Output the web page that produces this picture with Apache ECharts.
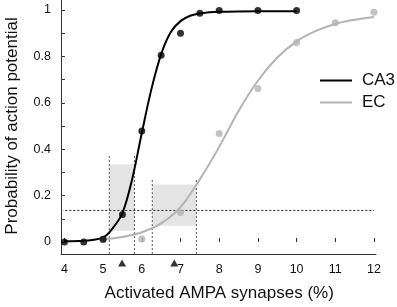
<!DOCTYPE html>
<html>
<head>
<meta charset="utf-8">
<script src="https://cdn.jsdelivr.net/npm/echarts@6/dist/echarts.min.js"></script>
<style>html,body{margin:0;padding:0;background:#fff;}#c{width:397px;height:307px;}</style>
</head>
<body>
<div id="c"></div>
<script>
// ---- data ----
const ca3X = [4, 4.5, 5, 5.5, 6, 6.5, 7, 7.5, 8, 9, 10];
const ca3Y = [0, 0, 0.012, 0.118, 0.478, 0.805, 0.9, 0.986, 0.998, 0.998, 0.998];
const ecX = [5, 6, 7, 8, 9, 10, 11, 12];
const ecY = [0.01, 0.013, 0.127, 0.468, 0.662, 0.86, 0.945, 0.99];

const ca3FitX = [4, 4.5, 5, 5.25, 5.5, 5.75, 6, 6.25, 6.5, 6.75, 7, 7.25, 7.5, 8, 9, 10];
const ca3FitY = [0.003, 0.005, 0.02, 0.06, 0.125, 0.27, 0.47, 0.66, 0.81, 0.905, 0.952, 0.975, 0.985, 0.992, 0.995, 0.995];
const ecFitX = [5, 5.5, 6, 6.5, 7, 7.5, 8, 8.5, 9, 9.5, 10, 10.5, 11, 11.5, 12];
const ecFitY = [0.012, 0.022, 0.042, 0.08, 0.15, 0.27, 0.41, 0.565, 0.695, 0.795, 0.865, 0.91, 0.94, 0.958, 0.97];

const thresholdY = 0.136;
const thresholdX = [3.92, 12];
const ca3Box = [5.16, 5.81, 0.048, 0.335];   // x1, x2, y1, y2
const ecBox = [6.27, 7.41, 0.07, 0.248];
const ca3GuideTop = 0.374;
const ecGuideTop = 0.268;
const axisBottomY = -0.052;
const triX = [5.49, 6.84];
const triY = -0.09;

const xTicks = [4, 5, 6, 7, 8, 9, 10, 11, 12];
const yTickLabels = ['0', '0.2', '0.4', '0.6', '0.8', '1'];

const BLACK = '#000000';
const GREY = '#b3b3b3';
const GUIDE = '#555555';
const FONT = 'Liberation Sans, Arial, sans-serif';

function zip(xs, ys) { return xs.map((x, i) => [x, ys[i]]); }
function vline(x, top) { return [[x, axisBottomY], [x, top]]; }

const guideStyle = { color: GUIDE, width: 1, type: [2, 2] };

const series = [
  { // boxes
    type: 'line', xAxisIndex: 0, yAxisIndex: 0, data: [], silent: true,
    markArea: {
      silent: true,
      itemStyle: { color: '#e4e4e4' },
      data: [
        [{ coord: [ca3Box[0], ca3Box[2]] }, { coord: [ca3Box[1], ca3Box[3]] }],
        [{ coord: [ecBox[0], ecBox[2]] }, { coord: [ecBox[1], ecBox[3]] }]
      ]
    }
  },
  { type: 'line', data: vline(ca3Box[0], ca3GuideTop), symbol: 'none', clip: false, lineStyle: guideStyle, silent: true, z: 2 },
  { type: 'line', data: vline(ca3Box[1], ca3GuideTop), symbol: 'none', clip: false, lineStyle: guideStyle, silent: true, z: 2 },
  { type: 'line', data: vline(ecBox[0], ecGuideTop), symbol: 'none', clip: false, lineStyle: guideStyle, silent: true, z: 2 },
  { type: 'line', data: vline(ecBox[1], ecGuideTop), symbol: 'none', clip: false, lineStyle: guideStyle, silent: true, z: 2 },
  { type: 'line', data: thresholdX.map(x => [x, thresholdY]), symbol: 'none', clip: false,
    lineStyle: { color: '#222', width: 1, type: [2, 2] }, silent: true, z: 2 },
  { name: 'EC', type: 'line', data: zip(ecFitX, ecFitY), symbol: 'none', smooth: 0.35, clip: false,
    lineStyle: { color: GREY, width: 2 }, itemStyle: { color: GREY }, z: 3 },
  { name: 'CA3', type: 'line', data: zip(ca3FitX, ca3FitY), symbol: 'none', smooth: 0.35, clip: false,
    lineStyle: { color: BLACK, width: 2 }, itemStyle: { color: BLACK }, z: 4 },
  { name: 'EC pts', type: 'scatter', data: zip(ecX, ecY), symbolSize: 7, clip: false,
    itemStyle: { color: GREY }, z: 5 },
  { name: 'CA3 pts', type: 'scatter', data: zip(ca3X, ca3Y), symbolSize: 7, clip: false,
    itemStyle: { color: BLACK }, z: 6 },
  { name: 'tri', type: 'scatter', data: triX.map(x => [x, triY]), symbol: 'triangle', symbolSize: [8, 7], clip: false,
    itemStyle: { color: BLACK }, z: 6 },
  // frame axes in grid 1
  { type: 'line', xAxisIndex: 1, yAxisIndex: 1, data: [], silent: true }
];

const chart = echarts.init(document.getElementById('c'), null, { renderer: 'canvas' });
chart.setOption({
  animation: false,
  backgroundColor: '#ffffff',
  textStyle: { fontFamily: FONT },
  grid: [
    { left: 64.4, right: 23, top: 10, bottom: 65, containLabel: false, outerBoundsMode: 'none' },
    { left: 61, right: 21, top: 0, bottom: 53, containLabel: false, outerBoundsMode: 'none' }
  ],
  legend: {
    orient: 'vertical', left: 320, top: 72, padding: 0,
    data: [{ name: 'CA3', icon: 'rect' }, { name: 'EC', icon: 'rect' }],
    itemWidth: 32, itemHeight: 2, itemGap: 5,
    textStyle: { fontSize: 17, color: '#111', fontFamily: FONT, padding: [0, 0, 0, 5], lineHeight: 14 }
  },
  xAxis: [
    {
      gridIndex: 0, type: 'value', min: xTicks[0], max: xTicks[xTicks.length - 1], interval: 1, offset: 12,
      axisLine: { show: false },
      axisTick: { show: true, inside: true, length: 4, lineStyle: { color: '#333' } },
      axisLabel: { fontSize: 12.5, color: '#111', margin: 9, fontFamily: FONT },
      splitLine: { show: false },
      name: 'Activated AMPA synapses (%)', nameLocation: 'middle', nameGap: 31,
      nameTextStyle: { fontSize: 17, color: '#111', fontFamily: FONT }
    },
    {
      gridIndex: 1, type: 'value', min: 0, max: 1,
      axisLine: { show: true, onZero: false, lineStyle: { color: '#333', width: 1 } },
      axisTick: { show: false }, axisLabel: { show: false }, splitLine: { show: false }
    }
  ],
  yAxis: [
    {
      gridIndex: 0, type: 'value', min: 0, max: 1, interval: 0.1, offset: 3.4,
      axisLine: { show: false },
      axisTick: { show: true, inside: true, length: 4, lineStyle: { color: '#333' } },
      axisLabel: {
        fontSize: 12.5, color: '#111', margin: 10, fontFamily: FONT,
        formatter: function (v) {
          const k = Math.round(v * 10);
          return k % 2 === 0 ? yTickLabels[k / 2] : '';
        }
      },
      splitLine: { show: false },
      name: 'Probability of action potential', nameLocation: 'middle', nameGap: 40,
      nameTextStyle: { fontSize: 17, color: '#111', fontFamily: FONT }
    },
    {
      gridIndex: 1, type: 'value', min: 0, max: 1,
      axisLine: { show: true, onZero: false, lineStyle: { color: '#333', width: 1 } },
      axisTick: { show: false }, axisLabel: { show: false }, splitLine: { show: false }
    }
  ],
  series: series
});
</script>
</body>
</html>
